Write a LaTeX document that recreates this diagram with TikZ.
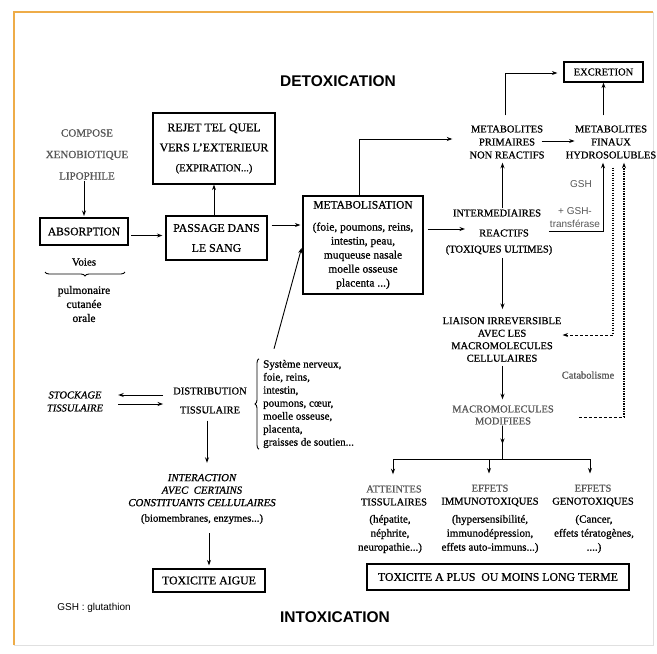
\documentclass[tikz,border=0pt]{standalone}
\usepackage{fontspec}
\setmainfont{Liberation Serif}[FakeBold=0.8]
\newfontfamily\sansfam{Liberation Sans}
\usetikzlibrary{arrows.meta,calc,decorations.pathreplacing}
\definecolor{frameor}{RGB}{238,172,72}
\definecolor{fade}{gray}{0.34}
\begin{document}
\begin{tikzpicture}[x=1pt,y=-1pt,
  t/.style 2 args={font=\fontsize{#1}{#2}\selectfont, align=center, inner sep=1pt},
  box/.style={draw, line width=1.2pt},
  title/.style={font=\sansfam\bfseries\fontsize{15.5}{18}\selectfont, inner sep=1pt},
  gsh/.style={font=\sansfam\fontsize{10}{13}\selectfont, text=fade, inner sep=1pt, align=center},
  arr/.style={line width=0.9pt, -{Stealth[length=5.5pt,width=4pt]}},
  ln/.style={line width=0.9pt},
  dotl/.style={line width=1.2pt, dash pattern=on 1.2pt off 1.3pt},
  dashl/.style={line width=0.9pt, dash pattern=on 3pt off 2pt}]
\useasboundingbox (0,0) rectangle (657,654);
\fill[white] (0,0) rectangle (657,654);
% frame
\draw[black!12, line width=0.8pt] (653,12) -- (653,645) -- (14,645);
\draw[frameor, line width=2pt] (14,645) -- (14,12) -- (653,12);

% titles
\node[title] (det) at (338,81) {DETOXICATION};
\node[title] (intox) at (335,617) {INTOXICATION};
\node[font=\sansfam\fontsize{10}{12}\selectfont, inner sep=1pt] (gshnote) at (94,608) {GSH : glutathion};

% left column
\node[t={11}{21.5}, text=fade] (comp) at (87,154.5) {COMPOSE\\XENOBIOTIQUE\\LIPOPHILE};
\node[box, t={11.5}{14}, line width=2pt, minimum width=88pt, minimum height=27pt] (abs) at (84,231.5) {ABSORPTION};
\node[t={11}{13}] (voies) at (84,262) {Voies};
\node[t={11.5}{14}] (vlist) at (84,304) {pulmonaire\\cutanée\\orale};
\draw[ln, decorate, decoration={brace, amplitude=4pt}] (125,272) -- (45,272);

\node[box, t={11.8}{20}, minimum width=122pt, minimum height=71pt] (rejet) at (214,148.5) {REJET TEL QUEL\\VERS L'EXTERIEUR\\{\fontsize{10.5}{20}\selectfont (EXPIRATION...)}};
\node[box, t={11.8}{20}, minimum width=101pt, minimum height=44pt] (pass) at (216.5,238) {PASSAGE DANS\\LE SANG};
\node[box, t={11.5}{14}, minimum width=120pt, minimum height=98pt] (meta) at (363,245) {METABOLISATION\\[8pt](foie, poumons, reins,\\intestin, peau,\\muqueuse nasale\\moelle osseuse\\placenta ...)};

% right column
\node[t={10.5}{13}] (metprim) at (507,142) {METABOLITES\\PRIMAIRES\\NON REACTIFS};
\node[box, t={10.5}{13}, minimum width=79pt, minimum height=20pt] (excr) at (603.5,72) {EXCRETION};
\node[t={10.5}{13}] (metfin) at (611,142) {METABOLITES\\FINAUX\\HYDROSOLUBLES};
\node[t={10.5}{13}] (inter1) at (497,213) {INTERMEDIAIRES};
\node[t={10.5}{13}] (inter2) at (504,233) {REACTIFS};
\node[t={10.5}{13}] (inter3) at (499,250) {(TOXIQUES ULTIMES)};
\node[gsh] (gsh1) at (581,184) {GSH};
\node[gsh] (gsh2) at (575,217.5) {+ GSH-\\transférase};
\node[t={10.5}{12.5}] (liaison) at (502,339.5) {LIAISON IRREVERSIBLE\\AVEC LES\\MACROMOLECULES\\CELLULAIRES};
\node[t={10.5}{12}, text=fade] (macmod) at (503,415) {MACROMOLECULES\\MODIFIEES};
\node[t={10.5}{12}, text=fade] (catab) at (588,375) {Catabolisme};

\node[t={10.5}{13}] (att) at (394,495.5) {{\color{fade}ATTEINTES}\\TISSULAIRES};
\node[t={11}{14}] (atts) at (390,534) {(hépatite,\\néphrite,\\neuropathie...)};
\node[t={10.5}{13}] (imm) at (490,495.5) {{\color{fade}EFFETS}\\IMMUNOTOXIQUES};
\node[t={11}{14}] (imms) at (490,534) {(hypersensibilité,\\immunodépression,\\effets auto-immuns...)};
\node[t={10.5}{13}] (gen) at (593,495.5) {{\color{fade}EFFETS}\\GENOTOXIQUES};
\node[t={11}{14}] (gens) at (594,534) {(Cancer,\\effets tératogènes,\\....)};
\node[box, t={11.8}{14}, minimum width=262pt, minimum height=26pt] (ltbox) at (498,577) {TOXICITE A PLUS\ \ OU MOINS LONG TERME};

% bottom left
\node[t={10.5}{13}] (stock) at (75,401.5) {{\itshape STOCKAGE}\\{\itshape TISSULAIRE}};
\node[t={10.5}{19}] (distr) at (210,400.5) {DISTRIBUTION\\TISSULAIRE};
\node[t={11}{13}, align=left, anchor=west] (dlist) at (262,404) {Système nerveux,\\foie, reins,\\intestin,\\poumons, cœur,\\moelle osseuse,\\placenta,\\graisses de soutien...};
\node[t={10.8}{12.5}] (interact) at (202,499) {{\itshape INTERACTION}\\{\itshape AVEC\ \ CERTAINS}\\{\itshape CONSTITUANTS CELLULAIRES}\\[3pt](biomembranes, enzymes...)};
\node[box, t={11.8}{14}, minimum width=112pt, minimum height=23pt] (toxaig) at (209,580.5) {TOXICITE AIGUE};

% helper coordinates
\coordinate (col) at (502.5,0);
\coordinate (barL) at (393,459);
\coordinate (barM) at (489,459);
\coordinate (barR) at (590,459);
\coordinate (d1) at (613,335);
\coordinate (d2) at (624,417);

% connectors
\draw[arr, shorten >=1pt] (abs.north |- comp.south) -- (abs.north);
\draw[arr, shorten <=2pt, shorten >=3pt] ([yshift=-4pt]abs.east) -- ([yshift=-4pt]abs.east -| pass.west);
\draw[arr] (rejet.south |- pass.north) -- (rejet.south);
\draw[arr, shorten <=4pt, shorten >=2pt] ([yshift=13pt]pass.east) -- ([yshift=13pt]pass.east -| meta.west);
\draw[arr, shorten >=3pt] ($(dlist.north west)+(12,-10)$) -- (meta.west);
\draw[arr] ([xshift=-4pt]meta.north) |- ($(metprim.west)+(-16,-3)$);
\draw[arr] ($(metprim.north)+(-2,-9)$) |- ($(excr.west)+(-6,1)$);
\draw[arr] ($(excr.south |- metfin.north)+(0,-9)$) -- (excr.south);
\draw[arr] ($(metprim.east)+(-4,-1)$) -- ($(metfin.west)+(10,-1)$);
\draw[arr, shorten >=3pt] (inter1.north -| col) -- (col |- metprim.south);
\draw[arr] ($(meta.east)+(4,-16)$) -- ($(inter2.west)+(-13,-4)$);
\draw[arr] ($(inter2.east)+(19,-2)$) -| ($(metfin.south)+(-8,3)$);
\draw[arr, shorten <=2pt, shorten >=7pt] (inter3.south -| col) -- (col |- liaison.north);
\draw[arr, shorten <=3pt, shorten >=5pt] (liaison.south -| col) -- (col |- macmod.north);
\draw[ln] (macmod.south -| col) -- (col |- barL);
\draw[arr] (macmod.south -| col) -- ($(macmod.south -| col)!0.55!(col |- barL)$);
\draw[ln] (barL) -- (barR);
\draw[arr, shorten >=10pt] (barL) -- (barL |- att.north);
\draw[arr, shorten >=10pt] (barM) -- (barM |- imm.north);
\draw[arr, shorten >=10pt] (barR) -- (barR |- gen.north);
\draw[dotl, shorten <=8pt] (metfin.south -| d1) -- (d1);
\draw[dashl, -{Stealth[length=5.5pt,width=4pt]}] (d1) -- (d1 -| liaison.east);
\draw[dashl, shorten <=24pt] (macmod.east |- d2) -- (d2);
\draw[dotl, -{Stealth[length=5.5pt,width=4pt]}, shorten >=3pt] (d2) -- (d2 |- metfin.south);
\draw[arr, shorten <=9pt, shorten >=14pt] ([yshift=5.5pt]distr.west) -- ([yshift=5.5pt]distr.west -| stock.east);
\draw[arr, shorten <=14pt, shorten >=9pt] ([yshift=-2.5pt]stock.east) -- ([yshift=-2.5pt]stock.east -| distr.west);
\draw[arr, shorten <=6pt, shorten >=10pt] ([xshift=-3pt]distr.south) -- ([xshift=-3pt]distr.south |- interact.north);
\draw[arr, shorten <=8pt, shorten >=3pt] (interact.south -| toxaig.north) -- (toxaig.north);
\draw[ln, decorate, decoration={brace, amplitude=4pt}] ([xshift=-3pt]dlist.south west) -- ([xshift=-3pt]dlist.north west);
\end{tikzpicture}
\end{document}
